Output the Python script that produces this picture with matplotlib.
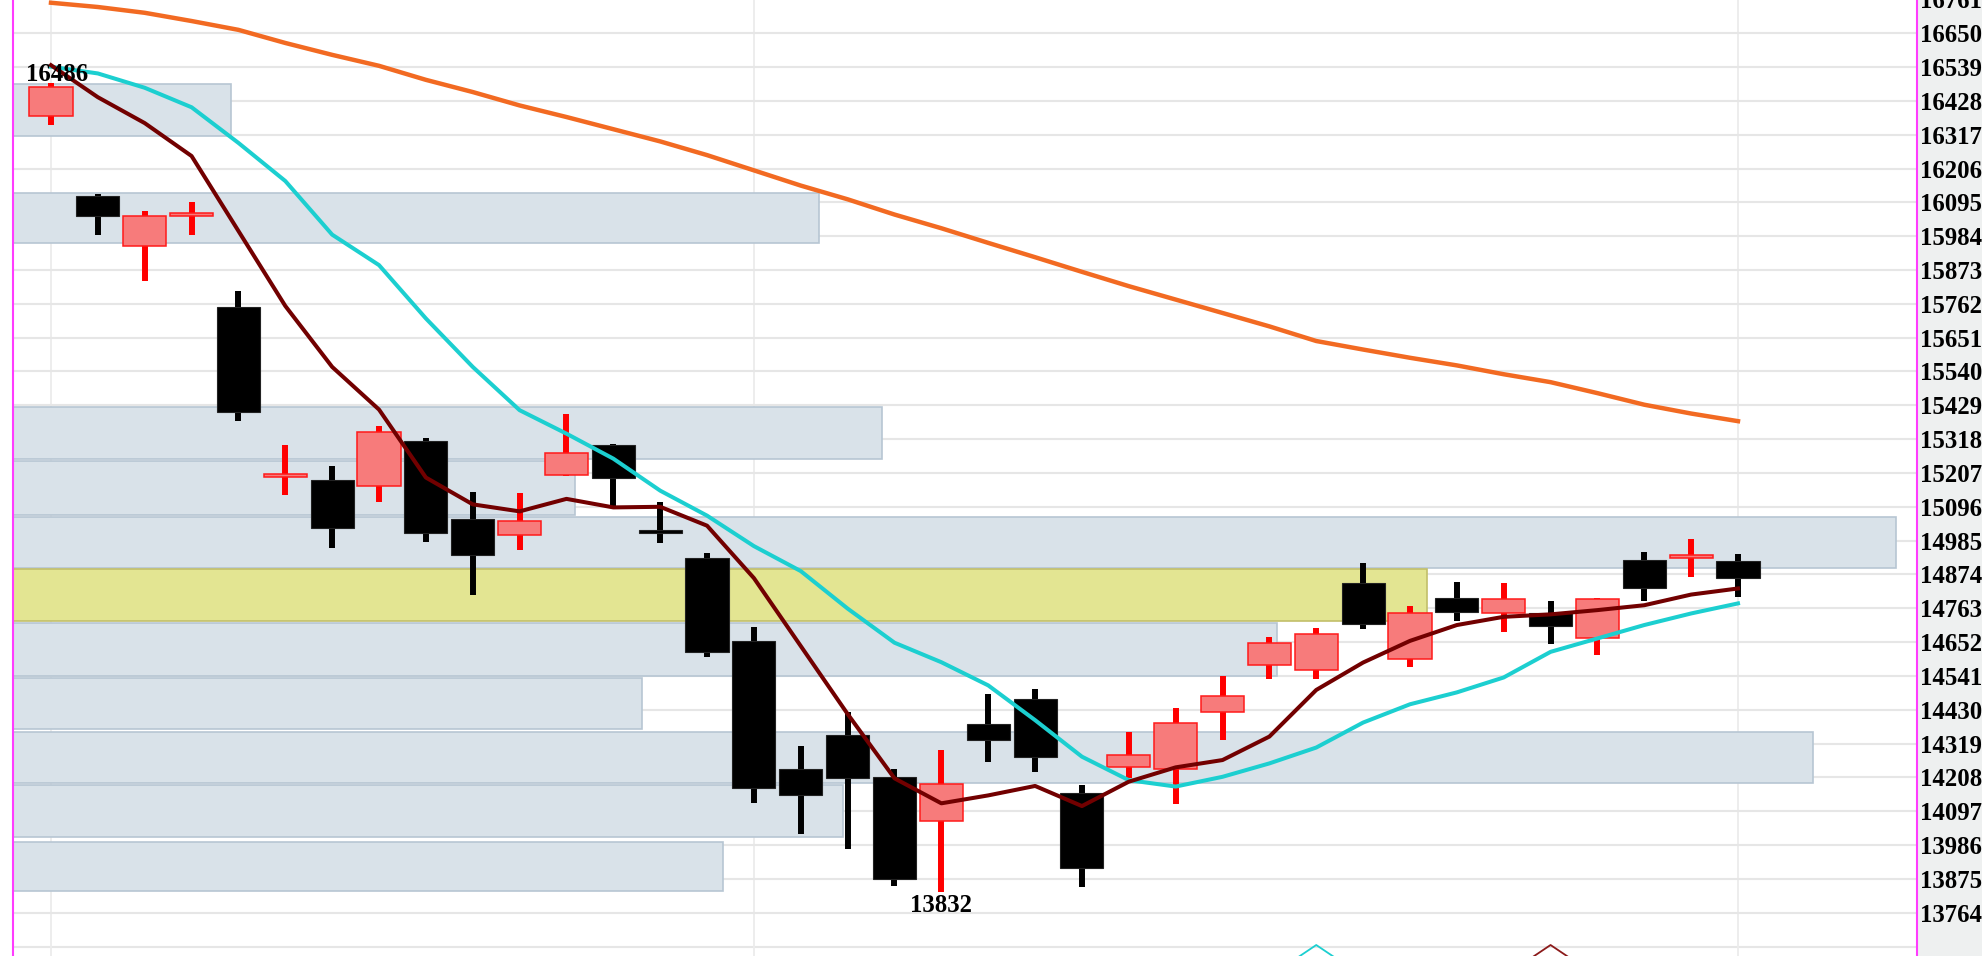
import matplotlib
matplotlib.use('Agg')
import matplotlib.pyplot as plt
import matplotlib.transforms as mtransforms
from matplotlib.patches import Rectangle
import numpy as np

# daily candles
opens = [16380, 16116, 15951, 16050, 15751, 15193, 15184, 15163, 15313, 15057,
         15002, 15201, 15299, 15017, 14929, 14656, 14237, 14348, 14211, 14064,
         14384, 14466, 14156, 14241, 14236, 14422, 14576, 14561, 14845, 14595,
         14797, 14746, 14749, 14667, 14921, 14932, 14918]
highs = [16486, 16122, 16065, 16095, 15805, 15300, 15230, 15360, 15321, 15143,
         15142, 15399, 15303, 15113, 14944, 14703, 14311, 14424, 14237, 14297,
         14481, 14497, 14182, 14358, 14437, 14542, 14668, 14697, 14910, 14772,
         14850, 14845, 14788, 14797, 14948, 14989, 14940]
lows = [16349, 15987, 15837, 15987, 15376, 15135, 14961, 15112, 14981, 14805,
        14955, 15198, 15099, 14976, 14604, 14123, 14023, 13974, 13853, 13832,
        14260, 14225, 13849, 14205, 14121, 14331, 14531, 14531, 14695, 14571,
        14720, 14685, 14645, 14609, 14787, 14866, 14801]
closes = [16472, 16049, 16050, 16060, 15407, 15203, 15026, 15343, 15011, 14937,
          15051, 15272, 15192, 15013, 14619, 14173, 14149, 14205, 13875, 14185,
          14331, 14276, 13910, 14282, 14385, 14475, 14648, 14678, 14710, 14746,
          14750, 14793, 14705, 14792, 14828, 14936, 14864]

# moving averages
ma_short = [16545, 16440, 16355, 16247, 16001, 15755, 15555, 15415, 15192, 15104,
            15081, 15122, 15094, 15096, 15034, 14862, 14639, 14416, 14205, 14123,
            14149, 14180, 14114, 14194, 14241, 14265, 14342, 14495, 14585, 14656,
            14708, 14735, 14743, 14757, 14773, 14808, 14828]
ma_mid = [16540, 16518, 16471, 16407, 16290, 16165, 15989, 15889, 15714, 15555,
          15413, 15336, 15254, 15149, 15067, 14967, 14885, 14762, 14650, 14586,
          14510, 14396, 14276, 14199, 14178, 14210, 14254, 14306, 14388, 14448,
          14487, 14536, 14620, 14664, 14708, 14746, 14779]
ma_long = [16750, 16736, 16717, 16690, 16661, 16618, 16579, 16543, 16497, 16457,
           16413, 16375, 16335, 16295, 16250, 16200, 16150, 16105, 16055, 16010,
           15962, 15915, 15867, 15820, 15776, 15732, 15688, 15640, 15612, 15585,
           15560, 15531, 15505, 15469, 15431, 15402, 15377]

# volume-by-price zones: top, bottom, how far right (in bars)
zone_top = [16484, 16126, 15424, 15247, 15064, 14891, 14714, 14534, 14358, 14184, 13996]
zone_bottom = [16312, 15960, 15254, 15069, 14896, 14720, 14540, 14366, 14190, 14012, 13834]
zone_end = [3.84, 16.39, 17.73, 11.18, 39.37, 29.36, 26.16, 12.61, 37.59, 16.90, 14.33]
zone_hot = 5

ytick_vals = [13764, 13875, 13986, 14097, 14208, 14319, 14430, 14541, 14652, 14763,
              14874, 14985, 15096, 15207, 15318, 15429, 15540, 15651, 15762, 15873,
              15984, 16095, 16206, 16317, 16428, 16539, 16650]
vgrid_bars = [0, 15, 36]
sig_mid_bars = [27]
sig_short_bars = [32]

W, H = 1982, 956
fig = plt.figure(figsize=(W / 100, H / 100), dpi=100)
fig.patch.set_facecolor('white')
ax = fig.add_axes([13 / W, 0, (1917 - 13) / W, 1])
fig.patches.append(Rectangle((1917 / W, 0), 65 / W, 1, transform=fig.transFigure,
                             color='#eef0f0', zorder=-5))

n = len(opens)
x = np.arange(n)
ax.set_xlim(-0.811, 39.82)
ax.set_ylim(13622, 16759)

# grid
ax.set_axisbelow(True)
ax.set_yticks(ytick_vals)
ax.set_xticks(vgrid_bars)
ax.grid(axis='y', color='#e6e6e6', lw=1.5)
ax.grid(axis='x', color='#ececec', lw=1.3)
ax.axhline(ytick_vals[0] - 111, color='#e6e6e6', lw=1.5, zorder=0)

# zones
xmin = ax.get_xlim()[0]
for i in range(len(zone_top)):
    if i == zone_hot:
        fc, ec = '#e3e592', '#c2bf6a'
    else:
        fc, ec = '#d9e2e9', '#b7c6d3'
    ax.add_patch(Rectangle((xmin, zone_bottom[i]), zone_end[i] - xmin,
                           zone_top[i] - zone_bottom[i], facecolor=fc,
                           edgecolor=ec, lw=1.2, zorder=1))

# candles
for i in range(n):
    up = closes[i] >= opens[i]
    lo, hi = min(opens[i], closes[i]), max(opens[i], closes[i])
    if hi - lo < 10:
        mid = (hi + lo) / 2
        lo, hi = mid - 5, mid + 5
    if up:
        ax.vlines(i, lows[i], highs[i], color='#ff0000', lw=4.3, zorder=2)
        ax.add_patch(Rectangle((i - 0.46, lo), 0.92, hi - lo, facecolor='#f77b7b',
                               edgecolor='#ff1a1a', lw=1.1, zorder=3))
    else:
        ax.vlines(i, lows[i], highs[i], color='black', lw=4.3, zorder=2)
        ax.add_patch(Rectangle((i - 0.46, lo), 0.92, hi - lo, facecolor='black',
                               edgecolor='#222222', lw=0.8, zorder=3))

# moving averages
ax.plot(x, ma_long, color='#f26a22', lw=3.2, zorder=4)
ax.plot(x, ma_mid, color='#1ccfd0', lw=2.9, zorder=4)
ax.plot(x, ma_short, color='#720000', lw=2.9, zorder=5)

# extreme labels
font = dict(family='Liberation Serif', weight='bold', size=17.8)
ih = int(np.argmax(highs))
il = int(np.argmin(lows))
ax.text(ih + 0.13, highs[ih] - 8, str(highs[ih]), ha='center', va='bottom', zorder=6, **font)
ax.text(il, lows[il] - 5, str(lows[il]), ha='center', va='top', zorder=6, **font)

# crossover marks at the bottom edge (open chevrons cut by the frame)
sig_tr = mtransforms.blended_transform_factory(ax.transData, ax.transAxes)
for bars, col in [(sig_mid_bars, '#1ccfd0'), (sig_short_bars, '#8b1a1a')]:
    for b in bars:
        ax.plot([b - 0.47, b, b + 0.47], [-0.004, 0.0115, -0.004], color=col,
                lw=1.3, transform=sig_tr, clip_on=False, zorder=6)

# axis dressing
ax.yaxis.tick_right()
ax.tick_params(axis='y', length=0, pad=2.5)
ax.tick_params(axis='x', length=0, labelbottom=False)
for lbl in ax.get_yticklabels():
    lbl.set_fontfamily('Liberation Serif')
    lbl.set_fontweight('bold')
    lbl.set_fontsize(17.8)
off = mtransforms.ScaledTranslation(2.5 / 72, 0, fig.dpi_scale_trans)
ax.text(1.0, ytick_vals[-1] + 111, str(ytick_vals[-1] + 111), transform=ax.get_yaxis_transform() + off,
        ha='left', va='center_baseline', clip_on=False, **font)

for s in ['top', 'bottom']:
    ax.spines[s].set_visible(False)
for s in ['left', 'right']:
    ax.spines[s].set_color('#ff3cff')
    ax.spines[s].set_linewidth(1.5)

fig.savefig('out.png', dpi=100)
